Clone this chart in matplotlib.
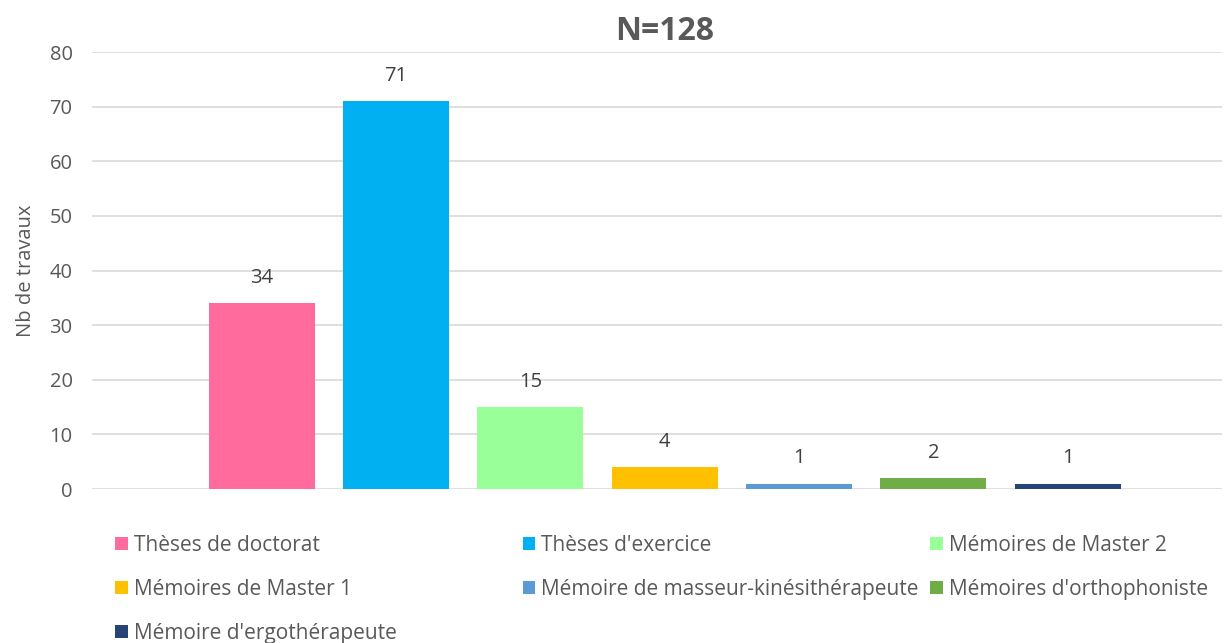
import matplotlib
matplotlib.use("Agg")
import matplotlib.pyplot as plt
from matplotlib.patches import Patch

categories = ["Thèses de doctorat", "Thèses d'exercice", "Mémoires de Master 2",
              "Mémoires de Master 1", "Mémoire de masseur-kinésithérapeute",
              "Mémoires d'orthophoniste", "Mémoire d'ergothérapeute"]
counts = [34, 71, 15, 4, 1, 2, 1]
colors = ["#FF6B9C", "#00B0F0", "#99FF99", "#FFC000", "#5B9BD5", "#70AD47", "#264478"]
yticks = [0, 10, 20, 30, 40, 50, 60, 70, 80]

plt.rcParams['font.family'] = ['Open Sans', 'DejaVu Sans']
grey = "#595959"

fig = plt.figure(figsize=(12.24, 6.43), dpi=100)
ax = fig.add_axes([0.0752, 0.2395, 0.9228, 0.6795])

x = list(range(len(counts)))
bars = ax.bar(x, counts, width=0.79, color=colors, zorder=3)
ax.bar_label(bars, labels=[str(c) for c in counts], padding=11, fontsize=14.5, color="#404040")

ax.set_xlim(-1.263, 7.145)
ax.set_ylim(0, 80)
ax.set_yticks(yticks)
ax.set_xticks([])
ax.tick_params(axis='y', length=0, pad=14, labelsize=14.5, labelcolor=grey)
ax.grid(axis='y', color="#D9D9D9", linewidth=1.2, zorder=0)
for s in ax.spines.values():
    s.set_visible(False)
ax.set_ylabel("Nb de travaux", fontsize=14.5, color=grey, labelpad=10)
ax.set_title("N=128", fontsize=23, fontweight='bold', color=grey, pad=9, x=0.507)

handles = [Patch(facecolor=c) for c in colors]
# Excel-style legend: 3 columns, filled row by row
col_x = [0.094, 0.427, 0.760]
for col in range(3):
    idx = list(range(col, len(categories), 3))
    fig.legend([handles[i] for i in idx], [categories[i] for i in idx],
               loc='upper left', bbox_to_anchor=(col_x[col], 0.1686),
               frameon=False, borderpad=0, borderaxespad=0, fontsize=15, labelcolor=grey,
               handlelength=0.6, handleheight=0.6, handletextpad=0.3,
               labelspacing=1.11)

fig.savefig("out.png", dpi=100)
